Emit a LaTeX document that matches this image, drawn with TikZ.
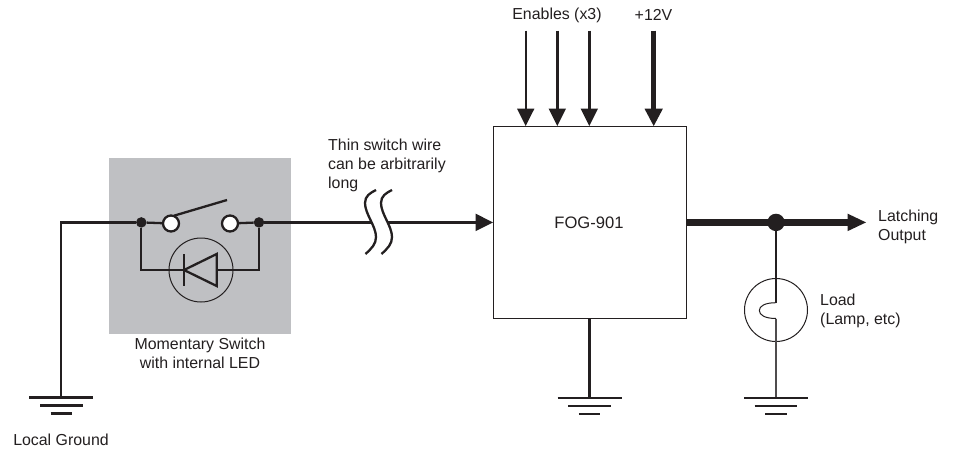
\documentclass[tikz,border=0pt]{standalone}
\usepackage{fontspec}
\setmainfont{Liberation Sans}
\definecolor{ink}{HTML}{231F20}
\definecolor{panel}{HTML}{BFC0C3}
\tikzset{
  x=1pt,y=-1pt,
  wire/.style={draw=ink,line width=2.3pt},
  thinline/.style={draw=ink,line width=1pt},
  txt/.style={font=\fontsize{15.9}{19}\selectfont,text=ink,inner sep=0pt,align=left},
  dotnode/.style={circle,fill=ink,inner sep=0pt,minimum size=10.5pt},
  bigdot/.style={circle,fill=ink,inner sep=0pt,minimum size=17.4pt},
  opencontact/.style={circle,draw=ink,line width=2.3pt,fill=white,inner sep=0pt,minimum size=16pt},
  ring/.style={circle,draw=ink,line width=1pt,inner sep=0pt,minimum size=64pt},
  head/.style={fill=ink,draw=none},
}
\begin{document}
\begin{tikzpicture}
\useasboundingbox (0,0) rectangle (954,448);
\fill[white] (0,0) rectangle (954,448);
% switch panel
\node[fill=panel,minimum width=182pt,minimum height=176pt,inner sep=0pt,anchor=north west] (panel) at (109,158) {};
% coordinates
\coordinate (corner) at (61.3,222.4);
\coordinate (gndL) at (61.3,397.5);
\node[dotnode] (dL) at (141.3,222.4) {};
\node[dotnode] (dR) at (259,222.4) {};
\node[opencontact] (cL) at (171,223.5) {};
\node[opencontact] (cR) at (230,223.5) {};
\coordinate (armA) at (174,215.7);
\coordinate (armB) at (227,200);
\coordinate (lowL) at (141.3,270);
\coordinate (lowR) at (259,270);
\node[ring] (led) at (201,270) {};
\coordinate (kT) at (184,254.3);
\coordinate (kB) at (184,286);
\coordinate (kM) at (184,270);
\coordinate (aT) at (216.7,254);
\coordinate (aB) at (216.7,286);
\coordinate (aM) at (216.7,270);
% chip
\node[draw=ink,line width=1pt,fill=white,minimum width=192.7pt,minimum height=191.7pt,inner sep=0pt,anchor=north west] (chip) at (493,126) {};
\node[txt,font=\fontsize{16.6}{19}\selectfont] (chipname) at (589,222.4) {FOG-901};
% left wiring
\draw[wire,line join=miter] (gndL) -- (corner) -- (dL);
\draw[wire] (dL) -- (cL);
\draw[wire] (cR) -- (dR);
\draw[wire] (armA) -- (armB);
\draw[wire,line join=miter] (dL) -- (lowL) -- (kM);
\draw[wire,line join=miter] (dR) -- (lowR) -- (aM);
\draw[wire] (kT) -- (kB);
\draw[wire,line join=miter] (kM) -- (aT) -- (aB) -- cycle;
% long wire, broken between the two squiggles
\coordinate (breakA) at (370.5,222.4);
\coordinate (breakB) at (386.5,222.4);
\coordinate (wireEnd) at (475.7,222.4);
\draw[wire] (dR) -- (breakA);
\draw[wire] (breakB) -- (wireEnd);
\fill[head] (493,222.4) -- (475.7,213.7) -- (475.7,231.1) -- cycle;
% squiggles
\foreach \dx in {0,16}{
  \draw[wire] (365.5+\dx,254) .. controls (372+\dx,248) and (376+\dx,244) .. (376+\dx,237)
     .. controls (376+\dx,226) and (365+\dx,214) .. (365+\dx,203)
     .. controls (365+\dx,196) and (370+\dx,193) .. (376+\dx,190);
}
% top arrows
\foreach \n/\xx in {a/525.7,b/557.3,c/589.3}{
  \coordinate (s\n) at (\xx,30.7);
  \draw[draw=ink,line width=2.4pt] (s\n) -- (\xx,109);
  \fill[head] (\xx,126) -- (\xx-8.7,108.7) -- (\xx+8.7,108.7) -- cycle;
}
\coordinate (sv) at (653.7,30.7);
\draw[draw=ink,line width=5.3pt] (sv) -- (653.7,109);
\fill[head] (653.7,126) -- (644.5,108.7) -- (662.9,108.7) -- cycle;
% output
\node[bigdot] (junction) at (776,222.4) {};
\draw[draw=ink,line width=6.7pt] (chip.east |- junction) -- (848,222.4);
\fill[head] (866,222.4) -- (847.7,213.7) -- (847.7,231.1) -- cycle;
% lamp
\node[circle,draw=ink,line width=1pt,inner sep=0pt,minimum size=63pt] (lamp) at (776,310) {};
\coordinate (fT) at (776,302.7);
\coordinate (fB) at (776,318.5);
\draw[wire] (junction) -- (fT);
\draw[thinline] (fT) .. controls (765,302.7) and (759.3,306) .. (759.3,310.5) .. controls (759.3,315) and (765,318.5) .. (fB);
\coordinate (gndR) at (776,398.3);
\draw[draw=ink!80,line width=1.3pt] (fB) -- (gndR);
% chip ground
\coordinate (gndC) at (589.5,398.3);
\draw[wire] (chip.south -| gndC) -- (gndC);
% ground symbols
\foreach \g in {gndL,gndR,gndC}{
  \begin{scope}[shift={(\g)}]
    \draw[wire] (-32,0) -- (32,0);
    \draw[wire] (-21.3,8) -- (21.3,8);
    \draw[wire] (-10.7,16) -- (10.7,16);
  \end{scope}
}
% labels
\node[txt,anchor=center] (enables) at (557,15) {Enables (x3)};
\node[txt,anchor=center] (plus) at (653.5,15) {+12V};
\node[txt,anchor=north west] (thin) at (328,139) {Thin switch wire\\can be arbitrarily\\long};
\node[txt,anchor=north,align=center] (mom) at (200,337.5) {Momentary Switch\\with internal LED};
\node[txt,anchor=center] (ground) at (61,440) {Local Ground};
\node[txt,anchor=north west] (latch) at (878,209.5) {Latching\\Output};
\node[txt,anchor=north west] (load) at (820,293.5) {Load\\(Lamp, etc)};
\end{tikzpicture}
\end{document}
